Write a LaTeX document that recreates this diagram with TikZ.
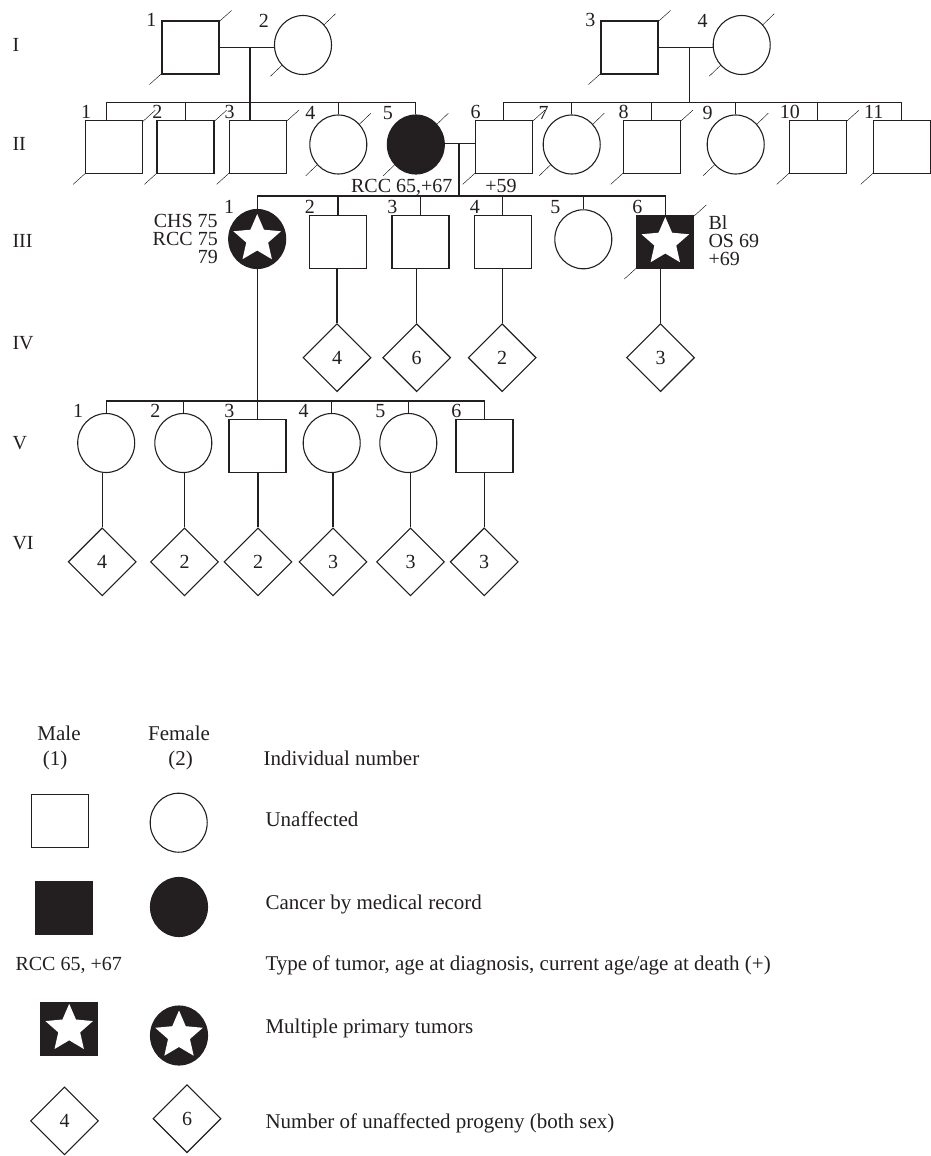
\documentclass[tikz,border=0pt]{standalone}
\usepackage{fontspec}
\setmainfont{Liberation Serif}
\usetikzlibrary{shapes.geometric,positioning,calc,backgrounds}
\definecolor{pedblack}{RGB}{35,31,32}

\begin{document}
\begin{tikzpicture}[
  x=1pt, y=-1pt,
  color=pedblack,
  line width=1.1pt,
  font=\fontsize{20}{24}\selectfont,
  male/.style={rectangle, draw, fill=white, minimum width=57pt, minimum height=53pt, inner sep=0pt},
  female/.style={ellipse, draw, fill=white, minimum width=57pt, minimum height=59pt, inner sep=0pt},
  aff/.style={fill=pedblack},
  multi/.style={fill=pedblack, path picture={
      \fill[white, shift={([yshift=-2.4pt]path picture bounding box.center)}]
        (90:25pt) \foreach \k in {0,...,4} {-- (126+72*\k:11.5pt) -- (162+72*\k:25pt)} -- cycle;}},
  kids/.style={diamond, draw, fill=white, minimum width=68pt, minimum height=68pt, inner sep=0pt},
  nr/.style={anchor=base, inner sep=0pt},
  gen/.style={anchor=base west, inner sep=0pt},
  note/.style={inner sep=0pt, font=\fontsize{20}{18}\selectfont},
  leg/.style={anchor=base west, inner sep=0pt, font=\fontsize{21}{25}\selectfont}
]
\useasboundingbox (0,0) rectangle (930,1156);

% generation labels
\node[gen] (gI)   at (12,52)  {I};
\node[gen] (gII)  at (12,150) {II};
\node[gen] (gIII) at (12,247) {III};
\node[gen] (gIV)  at (12,349) {IV};
\node[gen] (gV)   at (12,449) {V};
\node[gen] (gVI)  at (12,549) {VI};

% Generation I: two couples
\node[male]   (I1) at (190.5,47.5) {};
\node[female] (I2) at (303,45)     {};
\node[male]   (I3) at (629.5,47.5) {};
\node[female] (I4) at (741.7,45)   {};

% Generation II
\node[male]        (II1)  at (114.2,147.3) {};
\node[male]        (II2)  at (185.5,147.3) {};
\node[male]        (II3)  at (257.7,147.3) {};
\node[female]      (II4)  at (338.3,144.5) {};
\node[female, aff] (II5)  at (415.8,144.5) {};
\node[male]        (II6)  at (503.7,147.3) {};
\node[female]      (II7)  at (571.7,144.5) {};
\node[male]        (II8)  at (651.7,147.3) {};
\node[female]      (II9)  at (735.7,144.5) {};
\node[male]        (II10) at (817.8,147.3) {};
\node[male]        (II11) at (901.7,147.3) {};

% Generation III
\node[female, multi] (III1) at (257.2,239)   {};
\node[male]          (III2) at (338,242)     {};
\node[male]          (III3) at (420.5,242)   {};
\node[male]          (III4) at (502.8,242)   {};
\node[female]        (III5) at (583.3,239.3) {};
\node[male, multi]   (III6) at (665.3,242)   {};

% Generation IV: progeny counts
\node[kids] (IV2) at (337,357.7)   {4};
\node[kids] (IV3) at (416.7,357.7) {6};
\node[kids] (IV4) at (502.2,357.7) {2};
\node[kids] (IV6) at (660.5,357.7) {3};

% Generation V
\node[female] (V1) at (106.2,443) {};
\node[female] (V2) at (183.3,443) {};
\node[male]   (V3) at (257.5,446) {};
\node[female] (V4) at (331.7,443) {};
\node[female] (V5) at (408.3,443) {};
\node[male]   (V6) at (484.5,446) {};

% Generation VI
\node[kids] (VI1) at (102.2,561.8) {4};
\node[kids] (VI2) at (184.5,561.8) {2};
\node[kids] (VI3) at (258,561.8)   {2};
\node[kids] (VI4) at (333,561.8)   {3};
\node[kids] (VI5) at (410.5,561.8) {3};
\node[kids] (VI6) at (484.2,561.8) {3};

% individual numbers
\foreach \n/\t in {I1/1, I2/2, I3/3, I4/4}
  \node[nr] (l\n) at ($(\n.west |- \n.south)+(-10,-48)$) {\t};
\foreach \n/\t in {II1/1, II2/2, II3/3, II4/4, II5/5, II6/6, II7/7, II8/8, II9/9, II10/10, II11/11,
                   III1/1, III2/2, III3/3, III4/4, III5/5, III6/6, V1/1, V2/2, V3/3, V4/4, V5/5, V6/6}
  \node[nr] (l\n) at ($(\n.west |- \n.south)+(1,-55.5)$) {\t};

% tumour notes
\node[note, anchor=base east] (tII5) at (453,192.5) {RCC 65,+67};
\node[note, anchor=base]      (tII6) at (501,192.5) {+59};
\node[note, anchor=north east, align=right] (tIII1) at (218.3,213.5) {CHS 75\\RCC 75\\79};
\node[note, anchor=north west, align=left]  (tIII6) at (708,214.6) {Bl\\OS 69\\+69};

% junction points
\coordinate (mL) at (250,47.5);
\coordinate (sL) at (250,102.5);
\coordinate (mR) at (689.3,47.5);
\coordinate (sR) at (689.3,102.5);
\coordinate (mC) at (459,143.3);
\coordinate (sC) at (459,196);
\coordinate (sV) at (257.2,401);

% marriages and sibships
\draw (I1.east) -- (I1.east -| I2.west);
\draw (mL) -- (sL);
\draw ([xshift=-8pt]II1.north) |- (sL);
\draw (sL |- II3.north) -- (sL);
\foreach \n in {II2,II4,II5}
  \draw (\n.north) |- (sL);

\draw (I3.east) -- (I3.east -| I4.west);
\draw (mR) -- (sR);
\foreach \n in {II6,II7,II8,II9,II10,II11}
  \draw (\n.north) |- (sR);

\draw (mC -| II5.east) -- (mC -| II6.west);
\draw (mC) -- (sC);
\foreach \n in {III1,III2,III3,III4,III5,III6}
  \draw (\n.north) |- (sC);

\draw (III1.south) -- (sV);
\foreach \n in {V1,V2,V3,V4,V5,V6}
  \draw (\n.north) |- (sV);

% lines down to progeny
\foreach \p/\c in {III2/IV2, III3/IV3, III4/IV4, III6/IV6,
                   V1/VI1, V2/VI2, V3/VI3, V4/VI4, V5/VI5, V6/VI6}
  \draw (\c.north) -- (\c.north |- \p.south);

% deceased: slashes behind the symbols
\begin{scope}[on background layer]
  \foreach \n in {I1,I2,I3,I4,II1,II2,II3,II4,II5,II6,II7,II8,II9,II10,II11,III6}
    \draw ($(\n.south west)+(-12,10)$) -- ($(\n.north east)+(12,-10)$);
\end{scope}

% Legend
\node[leg, anchor=base] (tMale)   at (59,740)    {Male};
\node[leg, anchor=base] (tMnr)    at (55,765)    {(1)};
\node[leg, anchor=base] (tFemale) at (179,740)   {Female};
\node[leg, anchor=base] (tFnr)    at (180.5,765) {(2)};
\node[leg] (tInd) at (263,765) {Individual number};

\node[male]   (Lm1) at (60,821)    {};
\node[female] (Lf1) at (178.7,822.7) {};
\node[leg] (tUnaff) at (265,826) {Unaffected};

\node[male, aff]   (Lm2) at (63.8,908) {};
\node[female, aff] (Lf2) at (179,907)  {};
\node[leg] (tCancer) at (265,909) {Cancer by medical record};

\node[note, anchor=base west] (tRcc) at (15,970) {RCC 65, +67};
\node[leg] (tType) at (265,970.7) {Type of tumor, age at diagnosis, current age/age at death (+)};

\node[male, multi]   (Lm3) at (69.2,1028.8) {};
\node[female, multi] (Lf3) at (179,1035.5)  {};
\node[leg] (tMulti) at (265,1033) {Multiple primary tumors};

\node[kids] (Ld1) at (64.5,1120.8) {4};
\node[kids] (Ld2) at (187,1118.7)  {6};
\node[leg] (tProg) at (265,1128) {Number of unaffected progeny (both sex)};
\end{tikzpicture}
\end{document}
